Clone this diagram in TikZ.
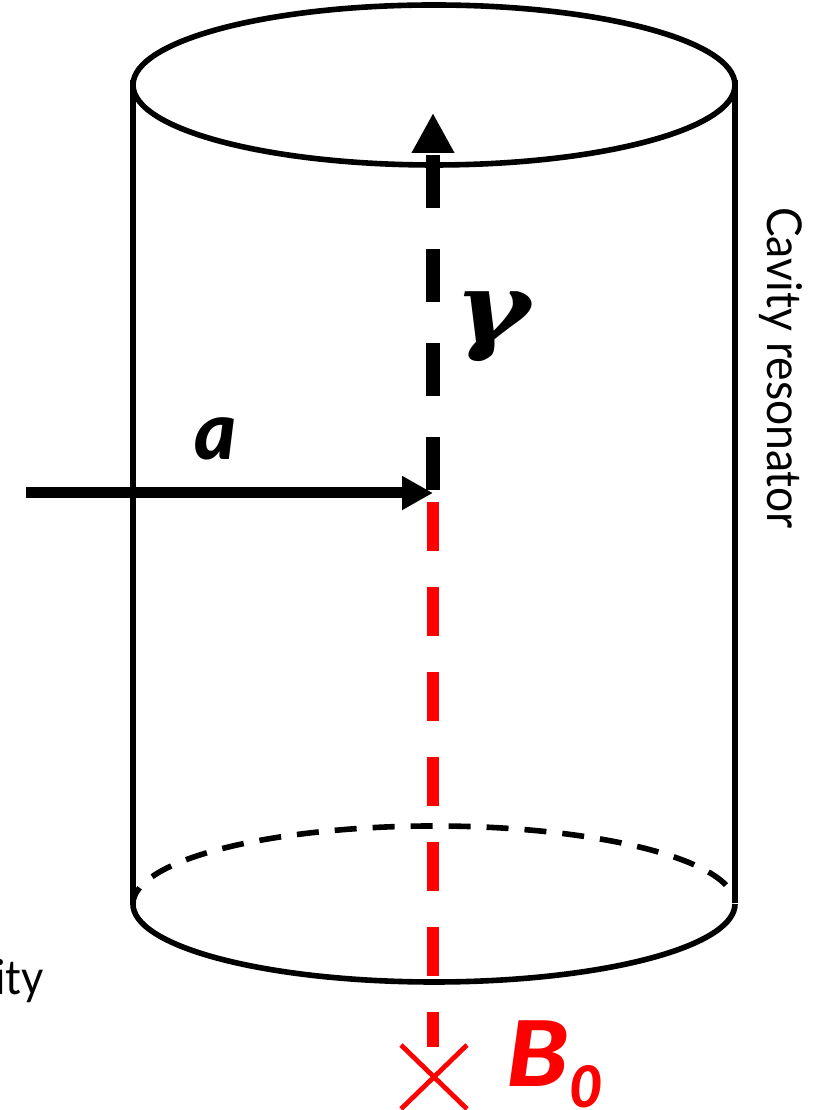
\documentclass[tikz,border=0pt]{standalone}
\usepackage{fontspec}
\setmainfont{Lato}
\newfontfamily\gammafont{DejaVu Serif}
\newfontfamily\heavyfont[ItalicFont={Lato Black Italic}]{Lato Black}
\usetikzlibrary{arrows.meta}

\begin{document}
\begin{tikzpicture}[
  x=0.75pt, y=0.75pt,
  wall/.style={line width=4.2pt},
  rimdash/.style={line width=4.2pt, dash pattern=on 16.5pt off 12pt},
  photon/.style={line width=10pt, dash pattern=on 39.75pt off 30.75pt, -{Triangle[length=30pt, width=30pt]}},
  field/.style={line width=9pt, red, dash pattern=on 36.75pt off 27pt},
  axion/.style={line width=8.25pt, -{Triangle[length=23.25pt, width=24pt]}},
  cross/.style={line width=3.6pt, red},
  lbl/.style={inner sep=0pt, font=\fontsize{36}{36}\selectfont}
]
  \useasboundingbox (0,0) rectangle (823,1110);

  \coordinate (topc) at (434,1025);
  \coordinate (botc) at (434,206);
  \coordinate (topl) at (133,1030);
  \coordinate (botl) at (133,206);
  \coordinate (topr) at (735,1030);
  \coordinate (botr) at (735,207);
  \coordinate (centre) at (433,620);
  \coordinate (photonend) at (433,997);
  \coordinate (fieldstart) at (433,608);
  \coordinate (fieldend) at (433,63);
  \coordinate (axionstart) at (26,617);
  \coordinate (axiontip) at (433,617);
  \coordinate (crossa) at (401,65);
  \coordinate (crossb) at (467,1);
  \coordinate (crossc) at (401,1);
  \coordinate (crossd) at (467,65);

  % cavity
  \draw[wall] (topc) ellipse [x radius=225.75pt, y radius=60pt];
  \draw[wall] (topl) -- (botl);
  \draw[wall] (topr) -- (botr);
  \draw[wall] (botc) ++(168:225.75pt and 58.5pt) arc [start angle=168, end angle=360, x radius=225.75pt, y radius=58.5pt];
  \draw[rimdash] (botc) ++(159.5:225.75pt and 58.5pt) arc [start angle=159.5, end angle=12.4, x radius=225.75pt, y radius=58.5pt];

  % beams
  \draw[field] (fieldstart) -- (fieldend);
  \draw[photon] (centre) -- (photonend);
  \draw[axion] (axionstart) -- (axiontip);
  \draw[cross] (crossa) -- (crossb);
  \draw[cross] (crossc) -- (crossd);

  \node[lbl, rotate=-90, anchor=base west] (cavlabel) at (767,903) {\scalebox{0.925}[1]{Cavity resonator}};
  \node[lbl, anchor=base east] (itylabel) at (44,115) {\scalebox{0.9}[1]{ity}};
  \node[inner sep=0pt, anchor=base, font=\fontsize{60}{60}\heavyfont\itshape] (alabel) at (216,650) {a};
  \node[inner sep=0pt, anchor=center, font=\fontsize{72}{72}\gammafont\bfseries\itshape] (gammalabel) at (493,783) {\scalebox{1.2}[1]{γ}};
  \node[inner sep=0pt, anchor=base west, red, font=\fontsize{68}{68}\heavyfont\itshape] (bfield) at (506,23) {\scalebox{1.12}[1]{B}\raisebox{-15.5pt}{\fontsize{43}{43}\selectfont 0}};
\end{tikzpicture}
\end{document}
